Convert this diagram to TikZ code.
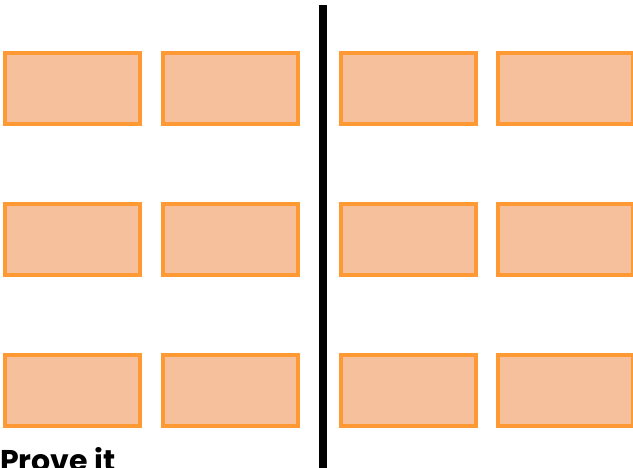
\documentclass[tikz,border=0pt]{standalone}
\usepackage{fontspec}
\setsansfont{Poppins}
\usepackage{tikz}
\usetikzlibrary{positioning}
\definecolor{cellline}{HTML}{FF9933}
\definecolor{cellfill}{HTML}{F5C09B}
\definecolor{ink}{HTML}{000000}
\tikzset{
  cell/.style    = {rectangle, draw=cellline, line width=4pt, fill=cellfill,
                    minimum width=135pt, minimum height=71pt, inner sep=0pt},
  divider/.style = {draw=ink, line width=8pt},
  caption/.style = {font=\sffamily\bfseries\fontsize{30}{30}\selectfont, text=ink,
                    inner sep=0pt, anchor=base west},
}
\begin{document}
\begin{tikzpicture}[x=1pt, y=-1pt]

  \useasboundingbox (0,0) rectangle (633,467);
  \clip (0,0) rectangle (633,467);

  % three rows of four boxes
  \foreach \r/\y in {1/88.5, 2/239.5, 3/390} {
    \foreach \c/\x in {1/72.5, 2/230, 3/408.5, 4/565.5} {
      \node[cell] (r\r c\c) at (\x,\y) {};
    }
  }

  \coordinate (top) at (322.5,5);
  \coordinate (bottom) at (322.5,475);
  \draw[divider] (top) -- (bottom);

  \node[caption] (prove) at (0,471) {Prove it};

\end{tikzpicture}
\end{document}
